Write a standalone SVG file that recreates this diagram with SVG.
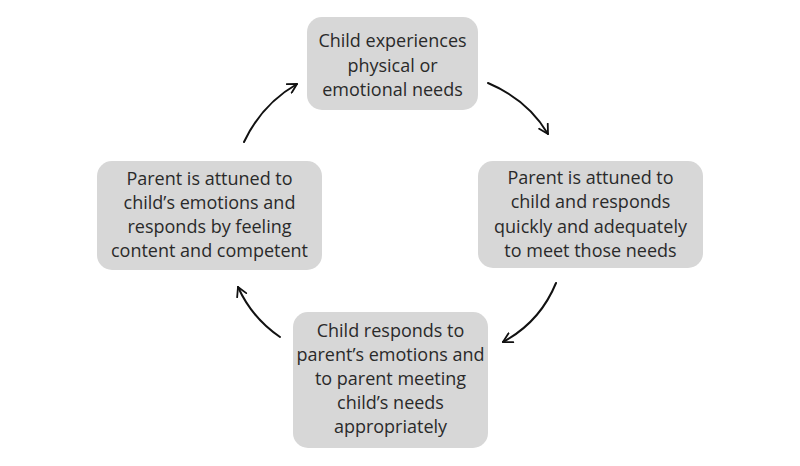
<svg xmlns="http://www.w3.org/2000/svg" width="800" height="466" viewBox="0 0 800 466">
<defs>
<style>
.box{fill:#d7d7d7;}
.t{font-family:"Open Sans","Liberation Sans",sans-serif;font-size:18px;fill:#2a2a2a;text-anchor:middle;}
.c{fill:none;stroke:#111;stroke-width:2;stroke-linecap:round;}
</style>
<marker id="ah" viewBox="0 0 12 12" refX="10" refY="6" markerWidth="12" markerHeight="12" markerUnits="userSpaceOnUse" orient="auto">
<path d="M1,1 L10,6 L1,11" fill="none" stroke="#111" stroke-width="1.8" stroke-linecap="round" stroke-linejoin="round"/>
</marker>
</defs>
<rect width="800" height="466" fill="#fff"/>
<g id="connectors">
<path class="c" d="M488,83 Q528,100 548,134" marker-end="url(#ah)"/>
<path class="c" d="M556,283 Q540,322 503,342" marker-end="url(#ah)"/>
<path class="c" d="M280,337 Q252,318 238,287" marker-end="url(#ah)"/>
<path class="c" d="M244,142 Q262,104 297,84" marker-end="url(#ah)"/>
</g>
<g id="node-top">
<rect class="box" x="307" y="17" width="171" height="93" rx="15"/>
<text class="t" x="392.5" y="47">Child experiences</text>
<text class="t" x="392.5" y="72">physical or</text>
<text class="t" x="392.5" y="96">emotional needs</text>
</g>
<g id="node-right">
<rect class="box" x="478" y="161" width="225" height="107" rx="15"/>
<text class="t" x="590.5" y="184">Parent is attuned to</text>
<text class="t" x="590.5" y="208">child and responds</text>
<text class="t" x="590.5" y="233">quickly and adequately</text>
<text class="t" x="590.5" y="257">to meet those needs</text>
</g>
<g id="node-bottom">
<rect class="box" x="293" y="312" width="195" height="136" rx="15"/>
<text class="t" x="390.5" y="337">Child responds to</text>
<text class="t" x="390.5" y="361">parent’s emotions and</text>
<text class="t" x="390.5" y="385">to parent meeting</text>
<text class="t" x="390.5" y="409">child’s needs</text>
<text class="t" x="390.5" y="433">appropriately</text>
</g>
<g id="node-left">
<rect class="box" x="97" y="161" width="225" height="109" rx="15"/>
<text class="t" x="209.5" y="185">Parent is attuned to</text>
<text class="t" x="209.5" y="209">child’s emotions and</text>
<text class="t" x="209.5" y="233">responds by feeling</text>
<text class="t" x="209.5" y="257">content and competent</text>
</g>
</svg>
